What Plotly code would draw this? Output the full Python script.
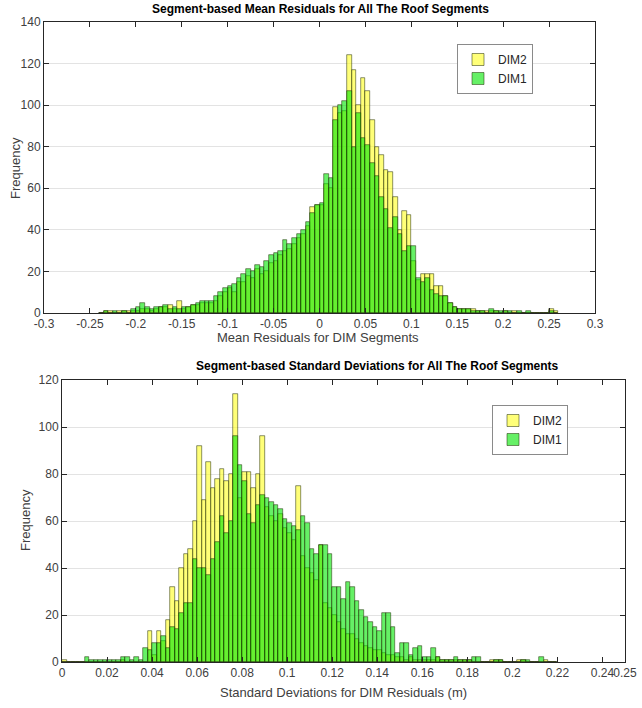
import plotly.graph_objects as go

# ---------------- data ----------------
# Top histogram: mean residuals, bins of 0.005 starting at -0.24
top_bin_start = -0.24
top_bin_width = 0.005
dim1_mean = [0, 1, 0, 1, 0, 1, 0, 2, 3, 5,
             3, 2, 3, 3, 4, 2, 3, 2, 3, 3,
             4, 5, 6, 6, 6, 8, 10, 12, 13, 14,
             17, 19, 21, 20, 23, 22, 25, 28, 29, 30,
             35, 33, 36, 38, 40, 44, 48, 52, 53, 67,
             65, 93, 100, 102, 107, 80, 96, 84, 81, 72,
             66, 56, 50, 41, 46, 38, 30, 32, 32, 17,
             15, 17, 11, 9, 8, 8, 5, 3, 2, 2,
             2, 1, 1, 1, 0, 2, 1, 1, 1, 1,
             0, 1, 0, 1, 0, 0, 0, 0, 1, 0]
dim2_mean = [0, 1, 1, 0, 1, 1, 1, 1, 1, 2,
             2, 1, 2, 3, 3, 4, 2, 6, 2, 3,
             4, 4, 5, 5, 5, 6, 8, 10, 12, 10,
             15, 15, 18, 17, 21, 19, 20, 24, 25, 28,
             30, 31, 33, 36, 38, 42, 51, 52, 52, 62,
             60, 99, 96, 97, 124, 117, 100, 113, 107, 93,
             80, 76, 69, 68, 56, 40, 49, 47, 25, 16,
             19, 19, 19, 13, 13, 8, 5, 3, 2, 2,
             2, 2, 1, 1, 1, 1, 1, 0, 1, 0,
             1, 0, 0, 0, 0, 0, 0, 0, 2, 1]

# Bottom histogram: standard deviations, bins of 0.002 starting at 0
bot_bin_start = 0.0
bot_bin_width = 0.002
dim1_std = [0, 0, 0, 0, 0, 2, 1, 1, 1, 1,
            1, 1, 1, 2, 2, 1, 2, 1, 6, 5,
            8, 8, 11, 6, 15, 14, 21, 25, 25, 44,
            40, 40, 37, 44, 51, 62, 55, 60, 96, 84,
            77, 63, 59, 67, 71, 70, 68, 67, 65, 61,
            59, 58, 56, 62, 59, 48, 46, 50, 50, 46,
            32, 32, 27, 34, 32, 26, 22, 19, 17, 15,
            13, 21, 21, 15, 4, 8, 8, 3, 6, 7,
            2, 2, 6, 2, 1, 1, 1, 2, 1, 1,
            1, 2, 2, 0, 0, 0, 1, 1, 0, 0,
            0, 0, 1, 1, 0, 0, 2, 0, 0, 0]
dim2_std = [1, 0, 0, 0, 0, 0, 0, 0, 0, 0,
            0, 0, 0, 1, 0, 0, 0, 0, 0, 13,
            3, 13, 9, 18, 32, 26, 40, 46, 48, 60,
            92, 69, 85, 74, 78, 82, 77, 80, 114, 70,
            81, 81, 74, 80, 96, 66, 62, 60, 63, 57,
            55, 52, 75, 45, 40, 38, 35, 50, 25, 23,
            20, 17, 14, 12, 12, 10, 8, 7, 6, 5,
            5, 4, 3, 3, 2, 2, 1, 2, 1, 1,
            1, 1, 1, 2, 1, 1, 1, 1, 1, 1,
            1, 0, 0, 0, 0, 1, 1, 1, 0, 0,
            0, 1, 1, 0, 0, 0, 0, 1, 0, 0]

top_xticks = [-0.3, -0.25, -0.2, -0.15, -0.1, -0.05, 0, 0.05, 0.1, 0.15, 0.2, 0.25, 0.3]
top_xticktext = ["-0.3", "-0.25", "-0.2", "-0.15", "-0.1", "-0.05", "0", "0.05", "0.1", "0.15", "0.2", "0.25", "0.3"]
bot_xticks = [0, 0.02, 0.04, 0.06, 0.08, 0.1, 0.12, 0.14, 0.16, 0.18, 0.2, 0.22, 0.24, 0.25]
bot_xticktext = ["0", "0.02", "0.04", "0.06", "0.08", "0.1", "0.12", "0.14", "0.16", "0.18", "0.2", "0.22", "0.24", "0.25"]

title_top = "Segment-based Mean Residuals for All The Roof Segments"
title_bot = "Segment-based Standard Deviations for All The Roof Segments"
xlabel_top = "Mean Residuals for DIM Segments"
xlabel_bot = "Standard Deviations for DIM Residuals (m)"
ylabel = "Frequency"

# ---------------- styling ----------------
W, H = 642, 708
FONT = "Liberation Sans, Arial, sans-serif"
YELLOW = "rgba(255,255,30,0.6)"
GREEN = "rgba(0,230,0,0.6)"
EDGE = "rgba(30,40,0,0.85)"
AXC = "#262626"
TICKC = "#404040"

top_centers = [top_bin_start + (i + 0.5) * top_bin_width for i in range(len(dim1_mean))]
bot_centers = [bot_bin_start + (i + 0.5) * bot_bin_width for i in range(len(dim1_std))]

fig = go.Figure()
fig.add_trace(go.Bar(x=top_centers, y=dim2_mean, width=top_bin_width, name="DIM2",
                     marker=dict(color=YELLOW, line=dict(color=EDGE, width=0.6)),
                     xaxis="x", yaxis="y", legend="legend"))
fig.add_trace(go.Bar(x=top_centers, y=dim1_mean, width=top_bin_width, name="DIM1",
                     marker=dict(color=GREEN, line=dict(color=EDGE, width=0.6)),
                     xaxis="x", yaxis="y", legend="legend"))
fig.add_trace(go.Bar(x=bot_centers, y=dim2_std, width=bot_bin_width, name="DIM2",
                     marker=dict(color=YELLOW, line=dict(color=EDGE, width=0.6)),
                     xaxis="x2", yaxis="y2", legend="legend2"))
fig.add_trace(go.Bar(x=bot_centers, y=dim1_std, width=bot_bin_width, name="DIM1",
                     marker=dict(color=GREEN, line=dict(color=EDGE, width=0.6)),
                     xaxis="x2", yaxis="y2", legend="legend2"))

def px_x(p):
    return p / W

def px_y(p):
    return 1 - p / H

axis_common = dict(showline=True, linecolor=AXC, linewidth=1, mirror="ticks",
                   ticks="inside", ticklen=5, tickcolor=AXC, zeroline=False,
                   automargin=False, tickangle=0,
                   tickfont=dict(family=FONT, size=12, color=TICKC))

fig.update_layout(
    width=W, height=H,
    margin=dict(l=0, r=0, t=0, b=0),
    paper_bgcolor="white", plot_bgcolor="white",
    barmode="overlay", bargap=0,
    font=dict(family=FONT, size=12, color=AXC),
    xaxis=dict(domain=[px_x(44), px_x(595)], range=[-0.3, 0.3], anchor="y",
               tickvals=top_xticks, ticktext=top_xticktext, showgrid=False, **axis_common),
    yaxis=dict(domain=[px_y(313), px_y(22)], range=[0, 140], anchor="x",
               tickvals=[0, 20, 40, 60, 80, 100, 120, 140], showgrid=True, gridcolor="#e3e3e3",
               **axis_common),
    xaxis2=dict(domain=[px_x(62), px_x(625)], range=[0, 0.25], anchor="y2",
                tickvals=bot_xticks, ticktext=bot_xticktext, showgrid=False, **axis_common),
    yaxis2=dict(domain=[px_y(662), px_y(380)], range=[0, 120], anchor="x2",
                tickvals=[0, 20, 40, 60, 80, 100, 120], showgrid=True, gridcolor="#e3e3e3",
                **axis_common),
    legend=dict(x=px_x(457), y=px_y(44), xanchor="left", yanchor="top",
                bgcolor="white", bordercolor="#8a8a8a", borderwidth=1,
                font=dict(family=FONT, size=12, color=AXC), tracegroupgap=0),
    legend2=dict(x=px_x(492), y=px_y(405), xanchor="left", yanchor="top",
                 bgcolor="white", bordercolor="#8a8a8a", borderwidth=1,
                 font=dict(family=FONT, size=12, color=AXC), tracegroupgap=0),
    showlegend=True,
)

annos = [
    dict(text="<b>" + title_top + "</b>", x=px_x(320), y=px_y(9), font=dict(size=12, color="black")),
    dict(text="<b>" + title_bot + "</b>", x=px_x(377), y=px_y(366), font=dict(size=12, color="black")),
    dict(text=xlabel_top, x=px_x(318), y=px_y(337), font=dict(size=13, color=TICKC)),
    dict(text=xlabel_bot, x=px_x(343), y=px_y(692), font=dict(size=13, color=TICKC)),
    dict(text=ylabel, x=px_x(15), y=px_y(168), textangle=-90, font=dict(size=13, color=TICKC)),
    dict(text=ylabel, x=px_x(25), y=px_y(520), textangle=-90, font=dict(size=13, color=TICKC)),
]
for a in annos:
    fig.add_annotation(xref="paper", yref="paper", showarrow=False,
                       xanchor="center", yanchor="middle",
                       font_family=FONT, **{k: v for k, v in a.items()})

# remove the default page margin so the figure sits at the window's top-left corner
fig.write_html("out.html",
               config={"displayModeBar": False},
               post_script="document.body.style.margin='0';document.body.style.overflow='hidden';")
